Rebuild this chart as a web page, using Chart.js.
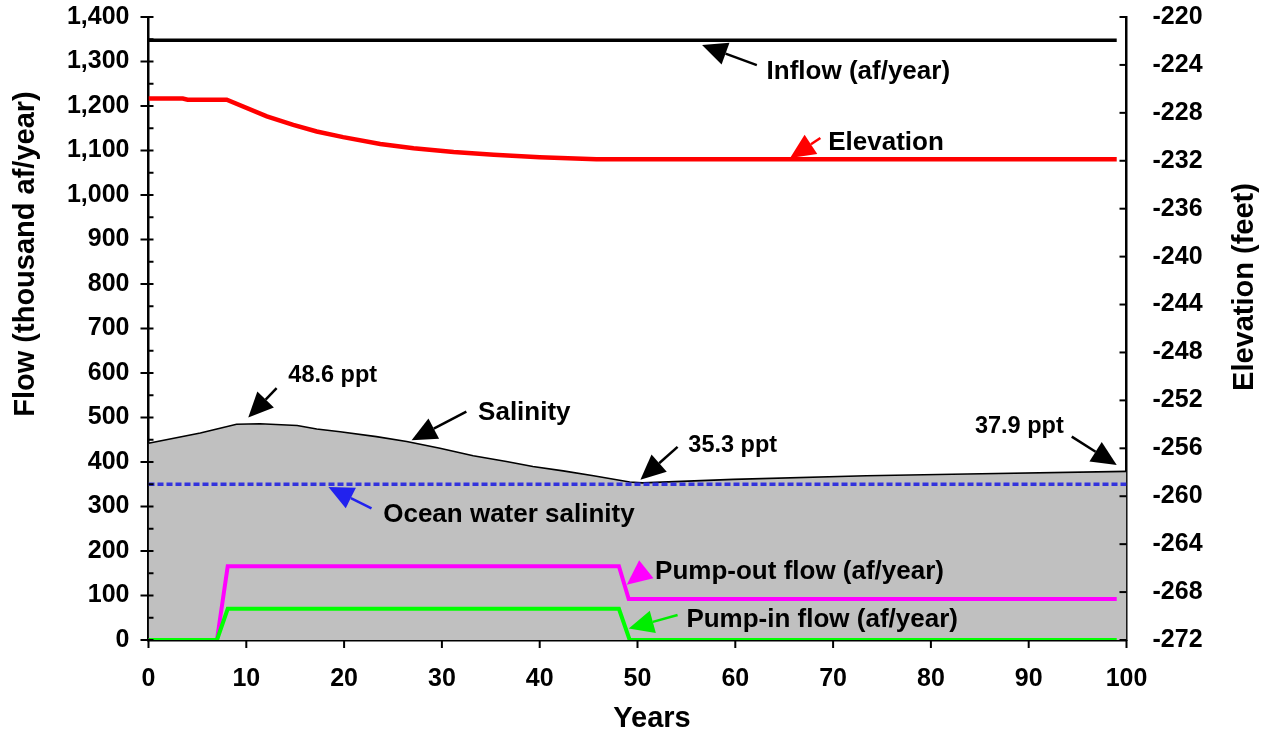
<!DOCTYPE html>
<html>
<head>
<meta charset="utf-8">
<script src="https://cdn.jsdelivr.net/npm/chart.js@4.4.0/dist/chart.umd.min.js"></script>
<style>
  html, body { margin: 0; padding: 0; background: #fff; }
  #wrap { width: 1270px; height: 733px; }
</style>
</head>
<body>
<div id="wrap"><canvas id="chart" width="1270" height="733"></canvas></div>
<script>
/* axis ticks */
const yearTicks = [0, 10, 20, 30, 40, 50, 60, 70, 80, 90, 100];
const flowTicks = [0, 100, 200, 300, 400, 500, 600, 700, 800, 900, 1000, 1100, 1200, 1300, 1400];
const elevTicks = [-272, -268, -264, -260, -256, -252, -248, -244, -240, -236, -232, -228, -224, -220];

/* series */
const inflowYears = [0, 99];
const inflowFlow = [1348, 1348];

const elevYears = [0, 3.5, 4, 8, 12.1, 14.8, 17.2, 19.9, 23.7, 27.1, 31.2, 35.3, 40, 45.8, 99];
const elevFeet = [-226.8, -226.8, -226.9, -226.9, -228.3, -229.0, -229.56, -230.03, -230.6, -230.96, -231.27, -231.5, -231.7, -231.87, -231.87];

const salYears = [0, 5.3, 9, 11.4, 15.2, 17.2, 19.6, 23.3, 26.4, 29.8, 33.2, 36.6, 39.3, 42.4, 45.5, 49.2, 50.5, 59.8, 73.4, 83.7, 100];
const salPpt = [44.2, 46.5, 48.5, 48.6, 48.2, 47.4, 46.8, 45.7, 44.6, 43.1, 41.4, 40.1, 39.0, 38.0, 36.9, 35.5, 35.3, 36.1, 36.9, 37.3, 37.9];

const oceanYears = [0, 100];
const oceanPpt = [35, 35];

const pumpOutYears = [0, 7, 8.1, 48.1, 49.1, 99];
const pumpOutFlow = [0, 0, 166, 166, 92, 92];

const pumpInYears = [0, 7, 8.1, 48.1, 49.2, 99];
const pumpInFlow = [0, 0, 70, 70, 0, 0];

const FONT = '"Liberation Sans", Arial, Helvetica, sans-serif';

function pts(xs, ys) {
  return xs.map((x, i) => ({ x: x, y: ys[i] }));
}

/* labels + arrows, placed in data units (year, flow) */
const notes = [
  { text: 'Inflow (af/year)', at: [63.2, 1276], tail: [62.2, 1292], tip: [56.6, 1337], color: '#000', size: 26 },
  { text: 'Elevation', at: [69.5, 1117], tail: [68.7, 1128], tip: [65.6, 1083], color: '#ff0000', size: 26 },
  { text: '48.6 ppt', at: [14.3, 595], tail: [13.1, 566], tip: [10.2, 500], color: '#000', size: 23.5 },
  { text: 'Salinity', at: [33.7, 510], tail: [32.5, 513], tip: [26.9, 449], color: '#000', size: 26 },
  { text: '35.3 ppt', at: [55.2, 438], tail: [54.1, 434], tip: [50.3, 360], color: '#000', size: 23.5 },
  { text: '37.9 ppt', at: [84.5, 479], tail: [94.4, 457], tip: [99.0, 393], color: '#000', size: 23.5 },
  { text: 'Ocean water salinity', at: [24.0, 281], tail: [22.8, 296], tip: [18.4, 344], color: '#2222ee', size: 26 },
  { text: 'Pump-out flow (af/year)', at: [51.8, 153], tail: [50.9, 159], tip: [48.9, 124], color: '#ff00ff', size: 26 },
  { text: 'Pump-in flow (af/year)', at: [55.0, 45], tail: [54.1, 56], tip: [49.1, 26], color: '#00ee00', size: 26 }
];

function arrow(ctx, x1, y1, x2, y2, color) {
  const ang = Math.atan2(y2 - y1, x2 - x1);
  const hl = 25, hw = 11.5;
  const bx = x2 - Math.cos(ang) * hl, by = y2 - Math.sin(ang) * hl;
  ctx.strokeStyle = color;
  ctx.fillStyle = color;
  ctx.lineWidth = 2.5;
  ctx.beginPath();
  ctx.moveTo(x1, y1);
  ctx.lineTo(bx, by);
  ctx.stroke();
  ctx.beginPath();
  ctx.moveTo(x2, y2);
  ctx.lineTo(bx + Math.sin(ang) * hw, by - Math.cos(ang) * hw);
  ctx.lineTo(bx - Math.sin(ang) * hw, by + Math.cos(ang) * hw);
  ctx.closePath();
  ctx.fill();
}

const notesPlugin = {
  id: 'notes',
  afterDatasetsDraw(chart) {
    const ctx = chart.ctx;
    const xs = chart.scales.x, ys = chart.scales.y;
    ctx.save();
    notes.forEach(n => {
      arrow(ctx, xs.getPixelForValue(n.tail[0]), ys.getPixelForValue(n.tail[1]),
        xs.getPixelForValue(n.tip[0]), ys.getPixelForValue(n.tip[1]), n.color);
      ctx.fillStyle = '#000';
      ctx.font = 'bold ' + n.size + 'px ' + FONT;
      ctx.textAlign = 'left';
      ctx.textBaseline = 'middle';
      ctx.fillText(n.text, xs.getPixelForValue(n.at[0]), ys.getPixelForValue(n.at[1]));
    });
    ctx.restore();
  }
};

/* tick marks and axis titles */
const framePlugin = {
  id: 'frame',
  afterDraw(chart) {
    const ctx = chart.ctx;
    const xs = chart.scales.x, ys = chart.scales.y, ye = chart.scales.yElev;
    ctx.save();
    ctx.strokeStyle = '#000';
    ctx.lineWidth = 2;
    const seg = (a, b, c, d) => { ctx.beginPath(); ctx.moveTo(a, b); ctx.lineTo(c, d); ctx.stroke(); };
    flowTicks.forEach((v, i) => {
      const p = ys.getPixelForValue(v);
      seg(ys.right - 8, p, ys.right + 5, p);
      if (i > 0) {
        const m = ys.getPixelForValue((v + flowTicks[i - 1]) / 2);
        seg(ys.right, m, ys.right + 5, m);
      }
    });
    elevTicks.forEach(v => {
      const p = ye.getPixelForValue(v);
      seg(ye.left - 7, p, ye.left, p);
    });
    yearTicks.forEach(v => {
      const p = xs.getPixelForValue(v);
      seg(p, xs.top, p, xs.top + 8);
    });

    ctx.fillStyle = '#000';
    ctx.font = 'bold 29px ' + FONT;
    ctx.textBaseline = 'alphabetic';
    ctx.textAlign = 'center';
    ctx.fillText('Years', 652, 727);

    ctx.save();
    ctx.translate(33.5, 254);
    ctx.rotate(-Math.PI / 2);
    ctx.fillText('Flow (thousand af/year)', 0, 0);
    ctx.restore();

    ctx.save();
    ctx.translate(1252.5, 287);
    ctx.rotate(-Math.PI / 2);
    ctx.fillText('Elevation (feet)', 0, 0);
    ctx.restore();

    ctx.restore();
  }
};

const tickFont = { family: FONT, size: 25, weight: 'bold' };
const border = { display: true, color: '#000', width: 2.5 };

function fixY(w) {
  return s => { s.width = w; s.paddingTop = 0; s.paddingBottom = 0; };
}

new Chart(document.getElementById('chart'), {
  type: 'line',
  data: {
    datasets: [
      {
        label: 'Salinity', data: pts(salYears, salPpt), yAxisID: 'ySal', order: 6,
        borderColor: '#000', borderWidth: 1.6, backgroundColor: '#c0c0c0', fill: 'origin'
      },
      {
        label: 'Ocean water salinity', data: pts(oceanYears, oceanPpt), yAxisID: 'ySal', order: 5,
        borderColor: '#3333dd', borderWidth: 3.5, borderDash: [6, 3], fill: false
      },
      {
        label: 'Pump-out flow', data: pts(pumpOutYears, pumpOutFlow), yAxisID: 'y', order: 4,
        borderColor: '#ff00ff', borderWidth: 4, fill: false
      },
      {
        label: 'Pump-in flow', data: pts(pumpInYears, pumpInFlow), yAxisID: 'y', order: 3,
        borderColor: '#00ff00', borderWidth: 4, fill: false
      },
      {
        label: 'Elevation', data: pts(elevYears, elevFeet), yAxisID: 'yElev', order: 2,
        borderColor: '#ff0000', borderWidth: 4.5, fill: false
      },
      {
        label: 'Inflow', data: pts(inflowYears, inflowFlow), yAxisID: 'y', order: 1,
        borderColor: '#000', borderWidth: 3.5, fill: false
      }
    ]
  },
  options: {
    responsive: false,
    animation: false,
    devicePixelRatio: 1,
    layout: { padding: { top: 17, left: 0, right: 0, bottom: 0 } },
    elements: { point: { radius: 0 }, line: { tension: 0 } },
    plugins: { legend: { display: false }, tooltip: { enabled: false } },
    scales: {
      x: {
        type: 'linear', min: 0, max: 100,
        grid: { display: false }, border: border,
        afterBuildTicks: s => { s.ticks = yearTicks.map(v => ({ value: v })); },
        ticks: { font: tickFont, color: '#000', padding: 16, maxRotation: 0, autoSkip: false },
        afterFit: s => { s.height = 93; s.paddingLeft = 0; s.paddingRight = 0; }
      },
      y: {
        position: 'left', min: 0, max: 1400,
        grid: { display: false }, border: border,
        afterBuildTicks: s => { s.ticks = flowTicks.map(v => ({ value: v })); },
        ticks: { font: tickFont, color: '#000', padding: 11, autoSkip: false,
          callback: v => v.toLocaleString('en-US') },
        afterFit: fixY(148.5)
      },
      yElev: {
        position: 'right', min: -272, max: -220,
        grid: { display: false }, border: border,
        afterBuildTicks: s => { s.ticks = elevTicks.map(v => ({ value: v })); },
        ticks: { font: tickFont, color: '#000', padding: 18, autoSkip: false,
          callback: v => String(v) },
        afterFit: fixY(143.5)
      },
      ySal: { display: false, min: 0, max: 140 }
    }
  },
  plugins: [notesPlugin, framePlugin]
});
</script>
</body>
</html>
